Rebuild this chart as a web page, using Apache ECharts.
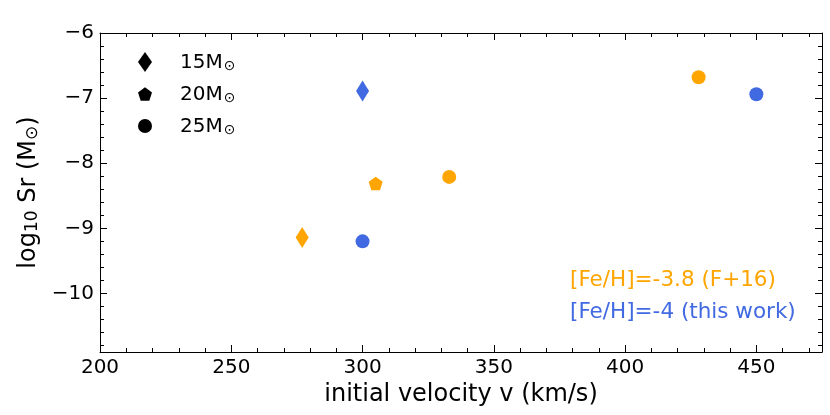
<!DOCTYPE html>
<html>
<head>
<meta charset="utf-8">
<script src="https://cdn.jsdelivr.net/npm/echarts@6/dist/echarts.min.js"></script>
<style>html,body{margin:0;padding:0;background:#fff;}#c{width:830px;height:415px;}</style>
</head>
<body>
<div id="c"></div>
<script>
// ---- data ----
const massNames = ['15', '20', '25'];
const m15X = [277, 300];
const m15Y = [-9.14, -6.89];
const m15Src = ['F16', 'this'];
const m20X = [305];
const m20Y = [-8.31];
const m20Src = ['F16'];
const m25X = [333, 428, 300, 450];
const m25Y = [-8.21, -6.68, -9.2, -6.94];
const m25Src = ['F16', 'F16', 'this', 'this'];
const xMajor = [200, 250, 300, 350, 400, 450];
const yMajor = [-10, -9, -8, -7, -6];
const annF16 = '[Fe/H]=-3.8 (F+16)';
const annThis = '[Fe/H]=-4 (this work)';

const srcColor = { F16: '#FFA500', this: '#4169E1' };
const FONT = 'DejaVu Sans';
const XMIN = 200, XMAX = 475, YMIN = -10.9, YMAX = -6;

const xMinor = [];
for (let v = 210; v < XMAX; v += 10) if (v % 50 !== 0) xMinor.push(v);
const yMinor = [];
for (let v = -10.8; v < -6; v = +(v + 0.2).toFixed(1)) if (Math.abs(v - Math.round(v)) > 1e-6) yMinor.push(v);

const pentagon = 'path://M0,-1 L0.951,-0.309 L0.588,0.809 L-0.588,0.809 L-0.951,-0.309 Z';

function build(xs, ys, src) {
  return xs.map((x, i) => ({ value: [x, ys[i]], itemStyle: { color: srcColor[src[i]], opacity: 1 } }));
}
const minus = v => String(v).replace('-', '\u2212');

function xAx(pos, vals, len, labels, line) {
  return {
    type: 'value', position: pos, min: XMIN, max: XMAX,
    axisLine: { show: line, onZero: false, lineStyle: { color: '#000', width: 1 } },
    axisTick: { show: true, inside: true, length: len, customValues: vals, lineStyle: { color: '#000', width: 1 } },
    axisLabel: labels ? { show: true, customValues: xMajor, color: '#000', fontFamily: FONT, fontSize: 20, margin: 6 } : { show: false },
    splitLine: { show: false }
  };
}
function yAx(pos, vals, len, labels, line) {
  return {
    type: 'value', position: pos, min: YMIN, max: YMAX,
    axisLine: { show: line, onZero: false, lineStyle: { color: '#000', width: 1 } },
    axisTick: { show: true, inside: true, length: len, customValues: vals, lineStyle: { color: '#000', width: 1 } },
    axisLabel: labels ? { show: true, customValues: yMajor, color: '#000', fontFamily: FONT, fontSize: 20, margin: 6, formatter: minus } : { show: false },
    splitLine: { show: false }
  };
}

const xAxes = [
  xAx('bottom', xMajor, 7, true, true),
  xAx('bottom', xMinor, 4, false, false),
  xAx('top', xMajor, 7, false, true),
  xAx('top', xMinor, 4, false, false)
];
Object.assign(xAxes[0], {
  name: 'initial velocity v (km/s)', nameLocation: 'middle', nameGap: 31,
  nameTextStyle: { color: '#000', fontFamily: FONT, fontSize: 24 }
});
const yAxes = [
  yAx('left', yMajor, 7, true, true),
  yAx('left', yMinor, 4, false, false),
  yAx('right', yMajor, 7, false, true),
  yAx('right', yMinor, 4, false, false)
];
Object.assign(yAxes[0], {
  name: '{a|log}{s|10}{a| Sr (M}{s|\u2299}{a|)}', nameLocation: 'middle', nameGap: 48, nameRotate: 90,
  nameTextStyle: {
    color: '#000', fontFamily: FONT, fontSize: 24,
    rich: {
      a: { fontFamily: FONT, fontSize: 24, color: '#000', lineHeight: 30, verticalAlign: 'bottom' },
      s: { fontFamily: FONT, fontSize: 17, color: '#000', lineHeight: 20, verticalAlign: 'bottom' }
    }
  }
});

const chart = echarts.init(document.getElementById('c'), null, { renderer: 'canvas' });
chart.setOption({
  animation: false,
  backgroundColor: '#fff',
  grid: { left: 100, right: 8, top: 33, bottom: 63, containLabel: false },
  xAxis: xAxes,
  yAxis: yAxes,
  legend: {
    orient: 'vertical', left: 133, top: 47, itemWidth: 14, itemHeight: 20, itemGap: 11,
    selectedMode: false,
    itemStyle: { opacity: 1 },
    data: [
      { name: '15', icon: 'diamond' },
      { name: '20', icon: pentagon },
      { name: '25', icon: 'circle' }
    ],
    formatter: n => '{p|}{a|' + n + 'M}{s|\u2299}',
    textStyle: {
      fontFamily: FONT, fontSize: 20, color: '#000',
      rich: {
        p: { width: 23 },
        a: { fontFamily: FONT, fontSize: 20, color: '#000', lineHeight: 22, verticalAlign: 'bottom' },
        s: { fontFamily: FONT, fontSize: 14, color: '#000', lineHeight: 14, verticalAlign: 'bottom', padding: [0, 0, 0, 1] }
      }
    }
  },
  series: [
    { name: massNames[0], type: 'scatter', color: '#000', itemStyle: { opacity: 1 }, symbol: 'diamond', symbolSize: [13, 21], data: build(m15X, m15Y, m15Src) },
    { name: massNames[1], type: 'scatter', color: '#000', itemStyle: { opacity: 1 }, symbol: pentagon, symbolSize: [14, 13.5], data: build(m20X, m20Y, m20Src) },
    { name: massNames[2], type: 'scatter', color: '#000', itemStyle: { opacity: 1 }, symbol: 'circle', symbolSize: 14, data: build(m25X, m25Y, m25Src) }
  ],
  graphic: [
    { type: 'text', left: 570, top: 269, style: { text: annF16, fill: srcColor.F16, font: '21.5px "DejaVu Sans"' } },
    { type: 'text', left: 570, top: 301, style: { text: annThis, fill: srcColor.this, font: '21.5px "DejaVu Sans"' } }
  ]
});
</script>
</body>
</html>
